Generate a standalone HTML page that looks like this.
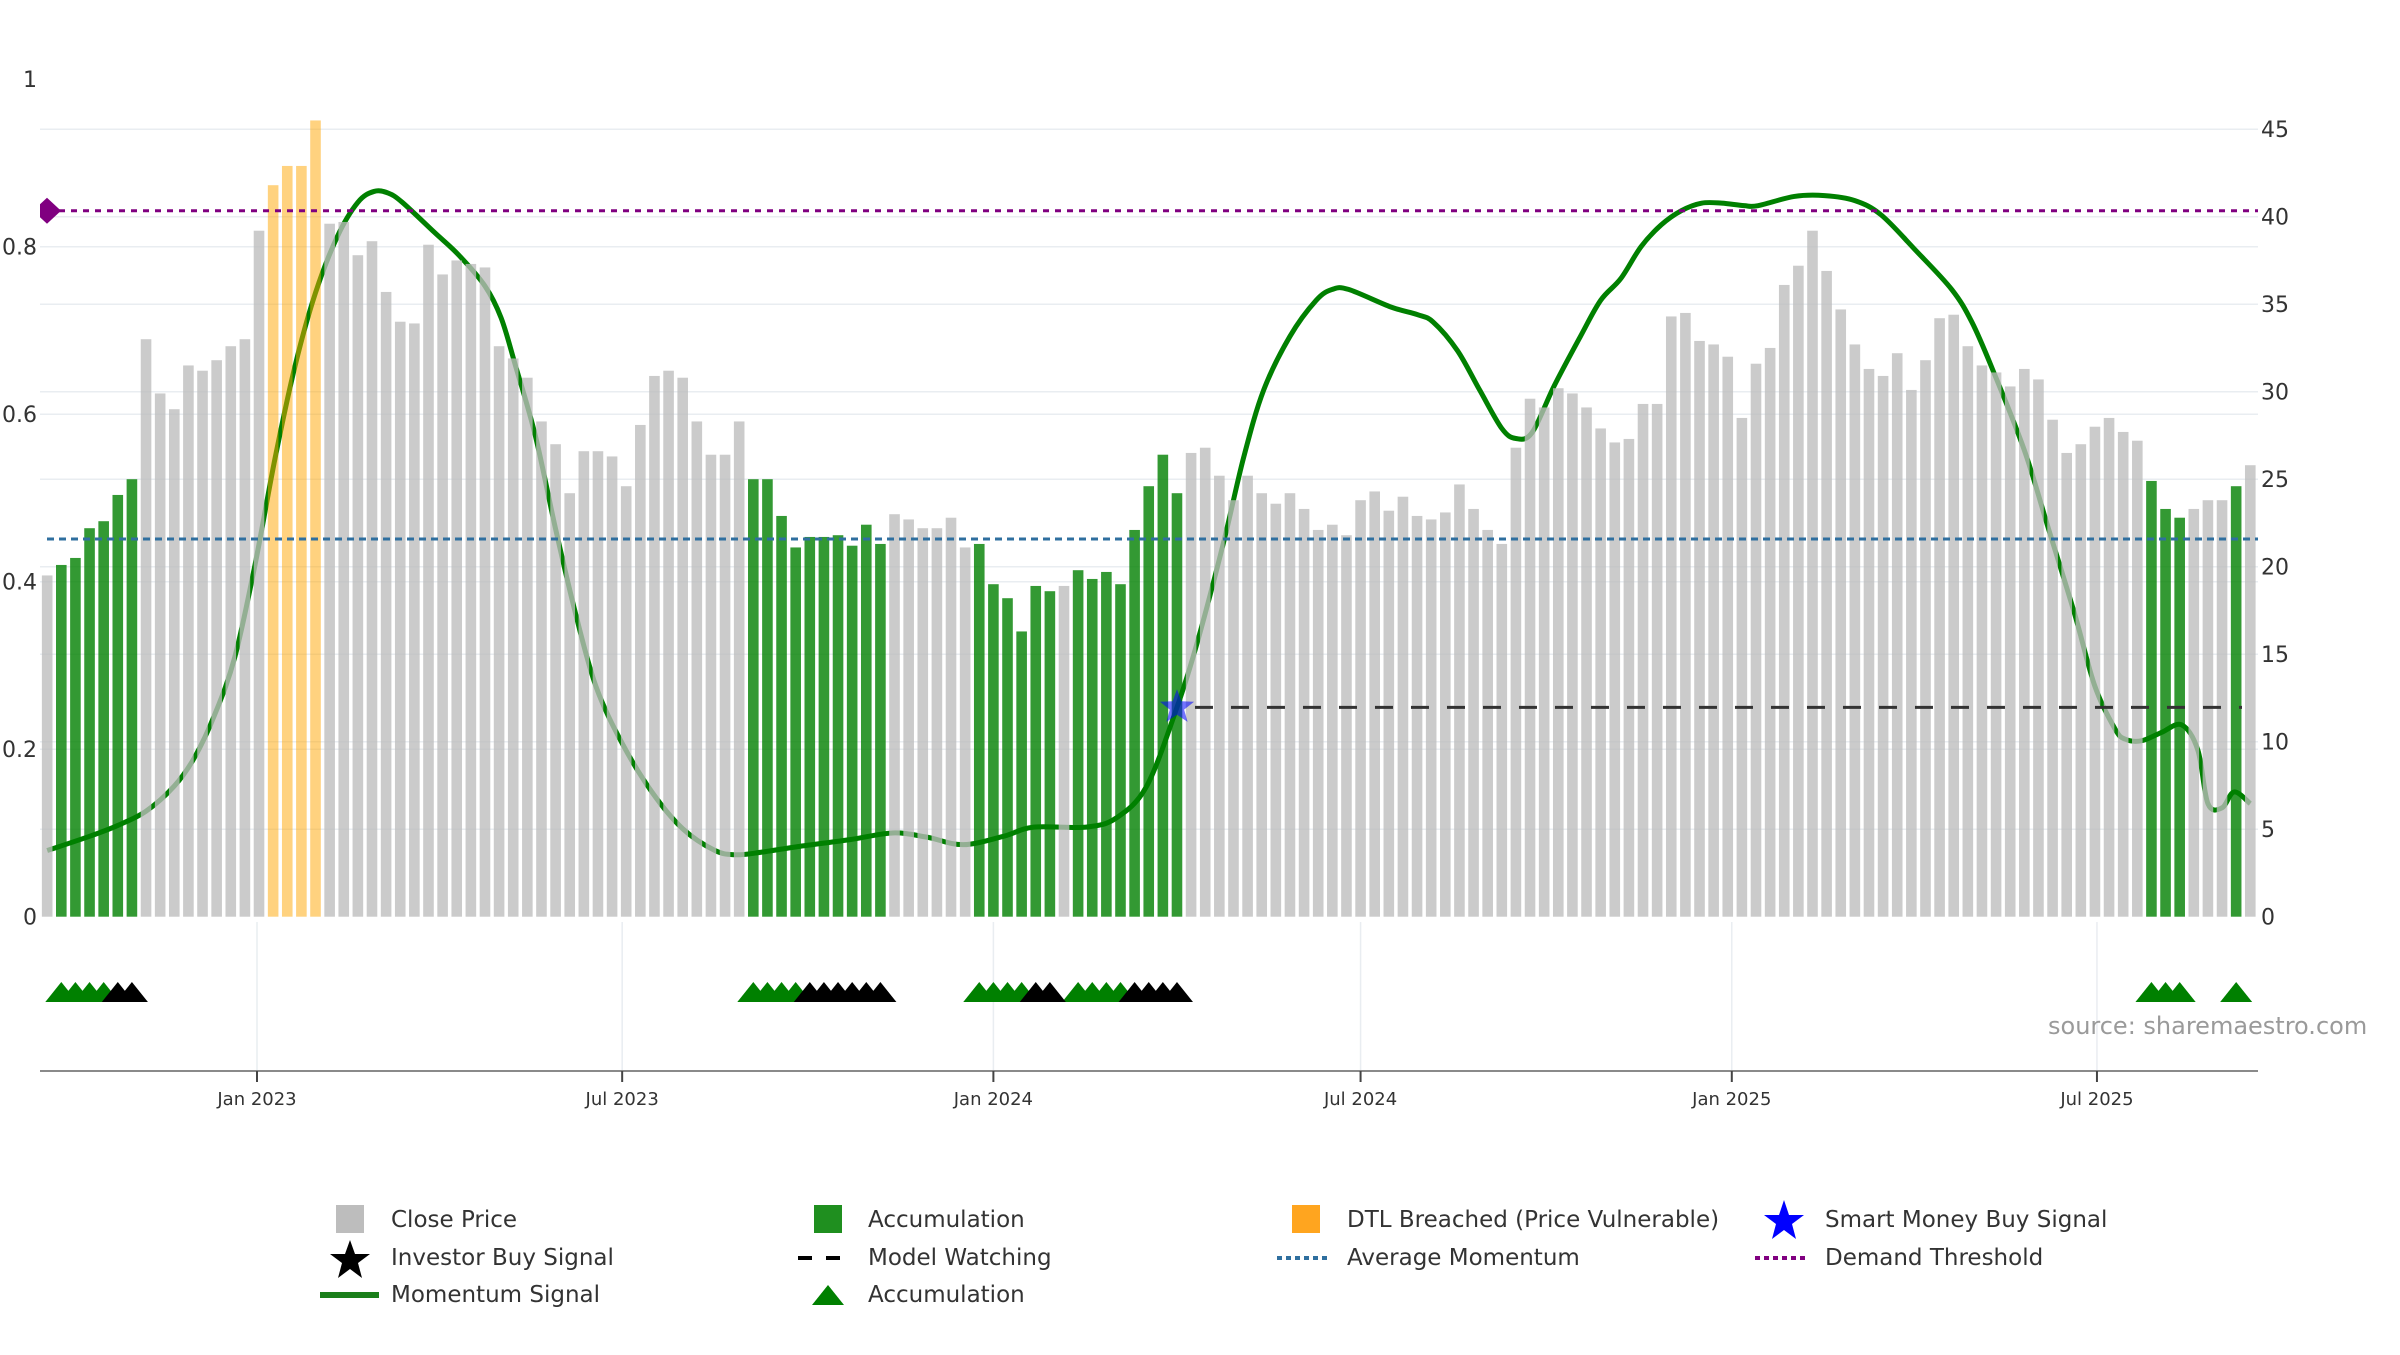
<!DOCTYPE html>
<html><head><meta charset="utf-8"><style>
html,body{margin:0;padding:0;background:#fff;}
svg text{font-family:"DejaVu Sans","Liberation Sans",sans-serif;}
</style></head><body>
<svg id="chart" width="2400" height="1350" viewBox="0 0 2400 1350" xmlns="http://www.w3.org/2000/svg">
<defs><clipPath id="plotclip"><rect x="40" y="60" width="2218" height="870"/></clipPath></defs>
<g id="grid"></g>
<g id="ticks"></g>
<g id="marks" clip-path="url(#plotclip)"></g>
<g id="signals"></g>
<text x="2048" y="1034" font-size="24" fill="#9a9a9a">source: sharemaestro.com</text>
<g id="legend">
  <g><rect x="336" y="1205" width="28" height="28" fill="#bdbdbd"/><text x="391" y="1227" font-size="23" fill="#333">Close Price</text></g>
  <g><polygon points="350,1240 355,1254 370,1254 358,1263 362,1278 350,1269 338,1278 342,1263 330,1254 345,1254" fill="#000"/><text x="391" y="1265" font-size="23" fill="#333">Investor Buy Signal</text></g>
  <g><line x1="320" y1="1295" x2="379" y2="1295" stroke="#1a7f1a" stroke-width="6"/><text x="391" y="1302" font-size="23" fill="#333">Momentum Signal</text></g>
  <g><rect x="814" y="1205" width="28" height="28" fill="#1f8f1f"/><text x="868" y="1227" font-size="23" fill="#333">Accumulation</text></g>
  <g><line x1="798" y1="1258" x2="853" y2="1258" stroke="#000" stroke-width="4" stroke-dasharray="14,14"/><text x="868" y="1265" font-size="23" fill="#333">Model Watching</text></g>
  <g><polygon points="812,1305 828,1285 844,1305" fill="#008000"/><text x="868" y="1302" font-size="23" fill="#333">Accumulation</text></g>
  <g><rect x="1292" y="1205" width="28" height="28" fill="#ffa51f"/><text x="1347" y="1227" font-size="23" fill="#333">DTL Breached (Price Vulnerable)</text></g>
  <g><line x1="1277" y1="1258" x2="1330" y2="1258" stroke="#2f6f9f" stroke-width="4" stroke-dasharray="5,4"/><text x="1347" y="1265" font-size="23" fill="#333">Average Momentum</text></g>
  <g><polygon points="1784,1200 1789,1215 1804,1215 1792,1224 1796,1239 1784,1230 1772,1239 1776,1224 1764,1215 1779,1215" fill="#0000ff"/><text x="1825" y="1227" font-size="23" fill="#333">Smart Money Buy Signal</text></g>
  <g><line x1="1755" y1="1258" x2="1808" y2="1258" stroke="#800080" stroke-width="4" stroke-dasharray="5,4"/><text x="1825" y="1265" font-size="23" fill="#333">Demand Threshold</text></g>
</g>
</svg>
<script>
// ---- data ----
const startDay = -104; // first bar, days from 2023-01-01
const closePrices = [19.5,20.1,20.5,22.2,22.6,24.1,25.0,33.0,29.9,29.0,31.5,31.2,31.8,32.6,33.0,39.2,41.8,42.9,42.9,45.5,
39.6,39.7,37.8,38.6,35.7,34.0,33.9,38.4,36.7,37.5,37.3,37.1,32.6,31.9,30.8,28.3,27.0,24.2,26.6,26.6,
26.3,24.6,28.1,30.9,31.2,30.8,28.3,26.4,26.4,28.3,25.0,25.0,22.9,21.1,21.7,21.7,21.8,21.2,22.4,21.3,
23.0,22.7,22.2,22.2,22.8,21.1,21.3,19.0,18.2,16.3,18.9,18.6,18.9,19.8,19.3,19.7,19.0,22.1,24.6,26.4,
24.2,26.5,26.8,25.2,23.8,25.2,24.2,23.6,24.2,23.3,22.1,22.4,21.8,23.8,24.3,23.2,24.0,22.9,22.7,23.1,
24.7,23.3,22.1,21.3,26.8,29.6,29.1,30.2,29.9,29.1,27.9,27.1,27.3,29.3,29.3,34.3,34.5,32.9,32.7,32.0,
28.5,31.6,32.5,36.1,37.2,39.2,36.9,34.7,32.7,31.3,30.9,32.2,30.1,31.8,34.2,34.4,32.6,31.5,31.1,30.3,
31.3,30.7,28.4,26.5,27.0,28.0,28.5,27.7,27.2,24.9,23.3,22.8,23.3,23.8,23.8,24.6,25.8];
const accumulationBars = [1,2,3,4,5,6,50,51,52,53,54,55,56,57,58,59,66,67,68,69,70,71,73,74,75,76,77,78,79,80,149,150,151,155];
const dtlBars = [16,17,18,19];
const greenMarkers = [1,2,3,4,50,51,52,53,66,67,68,69,73,74,75,76,149,150,151,155];
const blackMarkers = [5,6,54,55,56,57,58,59,70,71,77,78,79,80];
const momentumDays = [-104,-83,-69,-55,-41,-31,-21,-11,-1,9,19,29,40,50,58,65,72,88,100,113,121,128,138,148,158,168,181,196,211,227,237,247,269,
294,315,332,350,370,385,411,426,441,456,466,479,489,499,512,525,533,541,562,575,583,595,606,617,624,632,643,656,666,
676,686,696,706,716,726,737,744,762,777,792,805,822,840,850,860,876,888,901,911,921,926,934,944,954,962,967,974,980,988];
const momentumValues = [0.079,0.096,0.109,0.126,0.156,0.19,0.241,0.31,0.42,0.548,0.659,0.745,0.813,0.853,0.866,0.864,0.853,0.817,0.79,0.753,0.715,0.659,0.574,0.463,0.361,0.275,0.207,0.148,0.105,0.079,0.074,0.076,0.084,
0.092,0.1,0.095,0.086,0.096,0.107,0.107,0.118,0.156,0.25,0.327,0.446,0.548,0.629,0.693,0.736,0.749,0.749,0.728,0.719,0.71,0.676,0.629,0.583,0.571,0.578,0.634,0.693,0.736,
0.762,0.8,0.826,0.843,0.852,0.852,0.849,0.849,0.86,0.861,0.855,0.838,0.796,0.749,0.71,0.655,0.557,0.463,0.361,0.275,0.224,0.212,0.21,0.22,0.229,0.199,0.135,0.13,0.149,0.135];
const demandThreshold = 0.843;
const averageMomentum = 0.451;
const modelWatchLevel = 0.25;
const smartMoneyDay = 456;
const smartMoneyValue = 0.25;
const leftTicks = [0,0.2,0.4,0.6,0.8,1];
const leftTickLabels = ["0","0.2","0.4","0.6","0.8","1"];
const rightTicks = [0,5,10,15,20,25,30,35,40,45];
const dateTickDays = [0,181,365,547,731,912];
const dateTickLabels = ["Jan 2023","Jul 2023","Jan 2024","Jul 2024","Jan 2025","Jul 2025"];

// ---- scales ----
const X0 = 257, PXD = 2.0175, BASE = 916.7;
const xDay = d => X0 + d * PXD;
const yL = v => BASE - v * 837.5;
const yR = v => BASE - v * 17.5;
const PL = 40, PR = 2258;
const NS = "http://www.w3.org/2000/svg";
function mk(tag, attrs, parent){ const e=document.createElementNS(NS,tag); for(const k in attrs) e.setAttribute(k,attrs[k]); parent.appendChild(e); return e; }
const grid=document.getElementById('grid'), ticks=document.getElementById('ticks'), marks=document.getElementById('marks'), sig=document.getElementById('signals');

// gridlines
leftTicks.forEach((v,i)=>{
  if(v>0 && v<1){ const l=mk('line',{x1:PL,x2:PR,y1:yL(v),y2:yL(v),stroke:'#e9edf1','stroke-width':1.5},grid);
  
   }
  const t=mk('text',{x:37,y:yL(v)+8,'font-size':22,fill:'#333','text-anchor':'end'},ticks); t.textContent=leftTickLabels[i];
  
  
});
rightTicks.forEach(v=>{
  if(v>0){ const l=mk('line',{x1:PL,x2:PR,y1:yR(v),y2:yR(v),stroke:'#e9edf1','stroke-width':1.5},grid);
  
   }
  const t=mk('text',{x:2261,y:yR(v)+8,'font-size':22,fill:'#333'},ticks); t.textContent=String(v);
  
  
});
// x axis
const ax=mk('line',{x1:PL,x2:PR,y1:1071,y2:1071,stroke:'#8a8a8a','stroke-width':2},ticks);


dateTickDays.forEach((d,i)=>{
  const x=xDay(d);
  const g=mk('line',{x1:x,x2:x,y1:922,y2:1070,stroke:'#e9edf1','stroke-width':1.5},grid);
  
  
  const tk=mk('line',{x1:x,x2:x,y1:1071,y2:1082,stroke:'#444','stroke-width':2},ticks);
  
  
  const t=mk('text',{x:x,y:1105,'font-size':18,fill:'#333','text-anchor':'middle'},ticks); t.textContent=dateTickLabels[i];
  
  
});

// momentum line (catmull-rom)
const pts=momentumDays.map((d,i)=>[xDay(d),yL(momentumValues[i])]);
let dstr='M'+pts[0][0]+','+pts[0][1];
for(let i=0;i<pts.length-1;i++){
  const p0=pts[Math.max(0,i-1)],p1=pts[i],p2=pts[i+1],p3=pts[Math.min(pts.length-1,i+2)];
  const c1=[p1[0]+(p2[0]-p0[0])/6,p1[1]+(p2[1]-p0[1])/6], c2=[p2[0]-(p3[0]-p1[0])/6,p2[1]-(p3[1]-p1[1])/6];
  dstr+=` C${c1[0]},${c1[1]} ${c2[0]},${c2[1]} ${p2[0]},${p2[1]}`;
}
const ml=mk('path',{d:dstr,fill:'none',stroke:'#008000','stroke-width':5,'stroke-linejoin':'round'},marks);



// bars (drawn over line, semi-transparent)
closePrices.forEach((v,i)=>{
  const cx=xDay(startDay+7*i);
  let fill='#bdbdbd',op=0.78,name='bar-close-price';
  if(accumulationBars.includes(i)){fill='#008000';op=0.8;name='bar-accumulation';}
  if(dtlBars.includes(i)){fill='#ffa500';op=0.5;name='bar-dtl-breached';}
  const r=mk('rect',{x:cx-5.3,y:yR(v),width:10.6,height:BASE-yR(v),fill:fill,'fill-opacity':op},marks);
  
  
});

// reference lines
const dl=mk('line',{x1:47,x2:PR,y1:yL(demandThreshold),y2:yL(demandThreshold),stroke:'#800080','stroke-width':3,'stroke-dasharray':'6,6'},marks);


const yd=yL(demandThreshold);
const dm=mk('polygon',{points:`${33},${yd} ${47},${yd-13} ${61},${yd} ${47},${yd+13}`,fill:'#800080'},marks);


const al=mk('line',{x1:47,x2:PR,y1:yL(averageMomentum),y2:yL(averageMomentum),stroke:'#2f6f9f','stroke-width':3,'stroke-dasharray':'7,5'},marks);


const mw=mk('line',{x1:xDay(smartMoneyDay)+18,x2:2242,y1:yL(modelWatchLevel),y2:yL(modelWatchLevel),stroke:'#333','stroke-width':3,'stroke-dasharray':'18,18'},marks);


// star
(function(){const cx=xDay(smartMoneyDay),cy=yL(smartMoneyValue),R=18,r=7.5;let p=[];
for(let k=0;k<10;k++){const a=-Math.PI/2+k*Math.PI/5,rr=k%2?r:R;p.push((cx+rr*Math.cos(a)).toFixed(1)+','+(cy+rr*Math.sin(a)).toFixed(1));}
const s=mk('polygon',{points:p.join(' '),fill:'#0000ff','fill-opacity':0.55},marks);

})();

// signal triangles
function tri(i,color,name){const cx=xDay(startDay+7*i);
  const t=mk('polygon',{points:`${cx-16},1002 ${cx},982 ${cx+16},1002`,fill:color},sig);
  
  }
greenMarkers.forEach(i=>tri(i,'#008000','accumulation-marker'));
blackMarkers.forEach(i=>tri(i,'#000000','investor-signal-marker'));
</script>
</body></html>
